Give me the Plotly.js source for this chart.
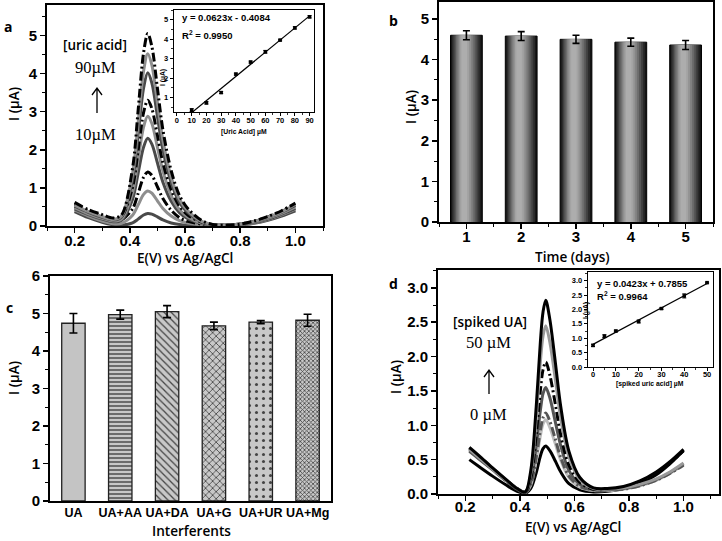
<!DOCTYPE html>
<html><head><meta charset="utf-8">
<script src="https://cdn.plot.ly/plotly-3.0.1.min.js"></script>
<style>html,body{margin:0;padding:0;background:#fff}#chart{width:722px;height:541px}</style>
</head><body><div id="chart"></div>
<script>
// ---------- Panel a : DPV at increasing uric acid ----------
const aPotential = [0.20,0.25,0.30,0.34,0.37,0.41,0.43,0.45,0.465,0.48,0.50,0.52,0.55,0.58,0.61,0.66,0.70,0.75,0.80,0.85,0.90,0.95,1.00];
const aUA10 = [0.38,0.22,0.10,0.03,0.02,0.08,0.18,0.29,0.33,0.31,0.24,0.16,0.08,0.04,0.02,0.01,0.00,0.00,0.02,0.07,0.15,0.26,0.40];
const aUA20 = [0.42,0.26,0.13,0.06,0.07,0.28,0.55,0.83,0.92,0.86,0.66,0.46,0.26,0.14,0.08,0.03,0.01,0.01,0.03,0.08,0.17,0.29,0.44];
const aUA30 = [0.50,0.34,0.21,0.14,0.16,0.45,0.85,1.28,1.42,1.33,1.03,0.72,0.41,0.22,0.12,0.05,0.02,0.02,0.04,0.10,0.19,0.32,0.48];
const aUA40 = [0.45,0.30,0.18,0.11,0.15,0.70,1.38,2.07,2.30,2.15,1.66,1.15,0.65,0.35,0.19,0.07,0.02,0.02,0.04,0.09,0.18,0.31,0.46];
const aUA50 = [0.48,0.32,0.20,0.13,0.19,0.88,1.73,2.60,2.88,2.69,2.07,1.44,0.80,0.43,0.24,0.08,0.03,0.02,0.04,0.10,0.20,0.33,0.50];
const aUA60 = [0.58,0.40,0.27,0.19,0.25,1.02,1.98,2.98,3.30,3.08,2.38,1.66,0.95,0.52,0.29,0.10,0.03,0.02,0.05,0.12,0.24,0.38,0.56];
const aUA70 = [0.52,0.36,0.23,0.16,0.24,1.22,2.40,3.62,4.02,3.75,2.88,2.00,1.14,0.62,0.35,0.11,0.03,0.02,0.05,0.11,0.22,0.36,0.54];
const aUA80 = [0.55,0.38,0.25,0.17,0.26,1.37,2.70,4.07,4.52,4.22,3.24,2.25,1.28,0.70,0.40,0.12,0.04,0.02,0.05,0.12,0.23,0.37,0.57];
const aUA90 = [0.62,0.43,0.30,0.21,0.29,1.52,3.02,4.55,5.05,4.71,3.62,2.52,1.45,0.80,0.46,0.15,0.04,0.02,0.05,0.13,0.25,0.40,0.60];
// inset a : calibration
const aConc = [10,20,30,40,50,60,70,80,90];
const aPeak = [0.35,0.72,1.25,2.20,2.82,3.35,3.95,4.58,5.15];
const aPeakErr = [0.07,0.06,0.05,0.05,0.05,0.07,0.04,0.06,0.06];
const aFitSlope = 0.0623, aFitIntercept = -0.4084;

// ---------- Panel b : stability ----------
const bDays = [1,2,3,4,5];
const bCurrent = [4.60,4.58,4.50,4.43,4.36];
const bErr = [0.11,0.11,0.10,0.10,0.11];

// ---------- Panel c : interferents ----------
const cLabels = ['UA','UA+AA','UA+DA','UA+G','UA+UR','UA+Mg'];
const cCurrent = [4.74,4.97,5.05,4.67,4.77,4.82];
const cErr = [0.26,0.12,0.16,0.10,0.04,0.16];

// ---------- Panel d : spiked real sample ----------
const dPotential = [0.215,0.25,0.30,0.35,0.39,0.42,0.44,0.46,0.475,0.485,0.495,0.51,0.53,0.55,0.58,0.62,0.67,0.72,0.78,0.84,0.90,0.95,1.00];
const dUA0  = [0.50,0.40,0.26,0.13,0.04,0.01,0.08,0.31,0.55,0.66,0.70,0.63,0.48,0.32,0.15,0.06,0.03,0.04,0.08,0.15,0.28,0.44,0.63];
const dUA5  = [0.68,0.56,0.38,0.21,0.08,0.02,0.13,0.49,0.84,1.02,1.08,0.97,0.73,0.49,0.24,0.10,0.05,0.05,0.07,0.12,0.20,0.30,0.43];
const dUA10 = [0.64,0.53,0.36,0.20,0.07,0.02,0.14,0.53,0.92,1.11,1.18,1.06,0.80,0.53,0.26,0.11,0.06,0.06,0.07,0.12,0.20,0.30,0.42];
const dUA20 = [0.62,0.51,0.35,0.19,0.07,0.02,0.18,0.70,1.21,1.46,1.55,1.40,1.05,0.70,0.34,0.14,0.06,0.06,0.08,0.13,0.21,0.31,0.44];
const dUA30 = [0.66,0.54,0.37,0.20,0.08,0.03,0.23,0.86,1.50,1.81,1.92,1.73,1.31,0.86,0.42,0.17,0.07,0.07,0.10,0.18,0.31,0.45,0.63];
const dUA40 = [0.65,0.53,0.36,0.20,0.08,0.03,0.29,1.10,1.91,2.30,2.45,2.21,1.67,1.10,0.54,0.21,0.08,0.07,0.09,0.14,0.22,0.32,0.45];
const dUA50 = [0.68,0.56,0.38,0.21,0.08,0.03,0.34,1.27,2.20,2.65,2.82,2.54,1.92,1.27,0.62,0.24,0.09,0.08,0.11,0.19,0.32,0.47,0.65];
// inset d : calibration
const dConc = [0,5,10,20,30,40,50];
const dPeak = [0.75,1.07,1.25,1.58,2.03,2.47,2.93];
const dPeakErr = [0.04,0.05,0.03,0.05,0.03,0.07,0.02];
const dFitSlope = 0.0423, dFitIntercept = 0.7855;

// ---------- styles ----------
const W = 722, H = 541;
const dx = (l, r) => [l / W, r / W];
const dy = (t, b) => [1 - b / H, 1 - t / H];
const px = v => v / W, py = v => 1 - v / H;

const tickFont = {family: 'Liberation Sans, Arial, sans-serif', size: 15, color: '#000', weight: 'bold'};
const titleFont = {family: 'Open Sans, sans-serif', size: 13.6, color: '#000', weight: 600};
const insetTick = {family: 'Liberation Sans, Arial, sans-serif', size: 7.5, color: '#000', weight: 'bold'};
const insetTitle = {family: 'Liberation Sans, Arial, sans-serif', size: 6.8, color: '#000', weight: 'bold'};
const minorMain = (d) => ({dtick: d, ticks: 'outside', ticklen: 3, tickwidth: 1, tickcolor: '#000'});
const minorInset = (d) => ({dtick: d, ticks: 'outside', ticklen: 2, tickwidth: 0.8, tickcolor: '#000'});

function axis(extra) {
  return Object.assign({
    showline: true, linecolor: '#000', linewidth: 2, mirror: true,
    ticks: 'outside', ticklen: 5, tickwidth: 1.5, tickcolor: '#000',
    showgrid: false, zeroline: false, tickfont: tickFont, fixedrange: true
  }, extra);
}
function insetAxis(extra) {
  return axis(Object.assign({linewidth: 1.3, ticklen: 3, tickwidth: 1, tickfont: insetTick}, extra));
}

const aSeries = [aUA10, aUA20, aUA30, aUA40, aUA50, aUA60, aUA70, aUA80, aUA90];
const aColors = ['#4a4a4a', '#8e8e8e', '#000000'];
const aDash = ['solid', 'solid', '9px,3px,2px,3px'];
const traces = [];
aSeries.forEach((ys, i) => {
  traces.push({type: 'scatter', mode: 'lines', x: aPotential, y: ys, xaxis: 'x', yaxis: 'y',
    line: {color: aColors[i % 3], width: 3, dash: aDash[i % 3], shape: 'spline', smoothing: 0.9},
    showlegend: false, hoverinfo: 'skip'});
});

// panel b: layered bars imitate the cylindrical shading
const bWidths = [0.58, 0.52, 0.46, 0.40, 0.34, 0.28, 0.22, 0.16, 0.10];
const bShades = ['#141414', '#2a2a2a', '#404040', '#575757', '#6d6d6d', '#818181', '#939393', '#a3a3a3', '#adadad'];
bWidths.forEach((w, i) => {
  const left = -0.29 + (0.58 - w) * 0.42;
  traces.push({type: 'bar', x: bDays, y: bCurrent, xaxis: 'x2', yaxis: 'y2',
    width: w, offset: left,
    marker: {color: bShades[i], line: {color: '#000', width: i === 0 ? 1 : 0}},
    showlegend: false, hoverinfo: 'skip'});
});
traces.push({type: 'scatter', mode: 'markers', x: bDays, y: bCurrent, xaxis: 'x2', yaxis: 'y2',
  marker: {size: 1, opacity: 0},
  error_y: {type: 'data', array: bErr, visible: true, color: '#000', thickness: 1.6, width: 3.5},
  showlegend: false, hoverinfo: 'skip'});

// panel c
traces.push({type: 'bar', x: cLabels, y: cCurrent, xaxis: 'x3', yaxis: 'y3', width: 0.5,
  marker: {color: '#c4c4c4', line: {color: '#222', width: 1.3},
    pattern: {shape: ['', '-', '\\', 'x', '.', 'x'], fgcolor: '#444', bgcolor: '#c8c8c8',
      size: [6, 4, 5, 5, 7, 3], solidity: [0.2, 0.35, 0.25, 0.3, 0.15, 0.45]}},
  error_y: {type: 'data', array: cErr, visible: true, color: '#000', thickness: 1.6, width: 4},
  showlegend: false, hoverinfo: 'skip'});

// panel d
const dSeries = [dUA0, dUA5, dUA10, dUA20, dUA30, dUA40, dUA50];
const dColors = ['#000000', '#bdbdbd', '#555555', '#555555', '#000000', '#999999', '#000000'];
const dDash = ['solid', 'solid', '9px,3px,2px,3px', 'solid', '9px,3px,2px,3px', 'solid', 'solid'];
dSeries.forEach((ys, i) => {
  traces.push({type: 'scatter', mode: 'lines', x: dPotential, y: ys, xaxis: 'x4', yaxis: 'y4',
    line: {color: dColors[i], width: 3, dash: dDash[i], shape: 'spline', smoothing: 0.9},
    showlegend: false, hoverinfo: 'skip'});
});

// insets
function fitLine(xs, m, b) { const x0 = xs[0], x1 = xs[xs.length - 1]; return {x: [x0, x1], y: [m * x0 + b, m * x1 + b]}; }
const aLine = fitLine(aConc, aFitSlope, aFitIntercept);
traces.push({type: 'scatter', mode: 'lines', x: aLine.x, y: aLine.y, xaxis: 'x5', yaxis: 'y5',
  line: {color: '#000', width: 1.2}, showlegend: false, hoverinfo: 'skip'});
traces.push({type: 'scatter', mode: 'markers', x: aConc, y: aPeak, xaxis: 'x5', yaxis: 'y5',
  marker: {symbol: 'square', size: 3.5, color: '#000'},
  error_y: {type: 'data', array: aPeakErr, visible: true, color: '#000', thickness: 1, width: 2},
  showlegend: false, hoverinfo: 'skip'});
const dLine = fitLine(dConc, dFitSlope, dFitIntercept);
traces.push({type: 'scatter', mode: 'lines', x: dLine.x, y: dLine.y, xaxis: 'x6', yaxis: 'y6',
  line: {color: '#000', width: 1.2}, showlegend: false, hoverinfo: 'skip'});
traces.push({type: 'scatter', mode: 'markers', x: dConc, y: dPeak, xaxis: 'x6', yaxis: 'y6',
  marker: {symbol: 'square', size: 3.5, color: '#000'},
  error_y: {type: 'data', array: dPeakErr, visible: true, color: '#000', thickness: 1, width: 2},
  showlegend: false, hoverinfo: 'skip'});

const txt = (x, y, text, font, extra) => Object.assign({xref: 'paper', yref: 'paper', x: px(x), y: py(y),
  text: text, showarrow: false, xanchor: 'center', yanchor: 'middle', font: font}, extra || {});
const vtxt = (x, y, text, font) => txt(x, y, text, font, {textangle: -90});
const labelFont = {family: 'Open Sans, sans-serif', size: 13.5, color: '#000', weight: 600};
const serifFont = {family: 'Liberation Serif, Times New Roman, serif', size: 16.5, color: '#000'};
const letterFont = {family: 'Open Sans, sans-serif', size: 14, color: '#000', weight: 700};
const eqFont = {family: 'Liberation Sans, Arial, sans-serif', size: 9.5, color: '#000', weight: 'bold'};

// upward arrow drawn as a paper-space path (tail at bottom, open chevron head)
function upArrow(x, yTop, yBottom) {
  const X = px(x), T = py(yTop), B = py(yBottom), hx = 5 / W, hy = 7 / H;
  return {type: 'path', xref: 'paper', yref: 'paper', line: {color: '#000', width: 1.3},
    path: `M${X},${B} L${X},${T} M${X - hx},${T - hy} L${X},${T} L${X + hx},${T - hy}`};
}

const xStand = -5;
const layout = {
  width: W, height: H, margin: {l: 0, r: 0, t: 0, b: 0},
  paper_bgcolor: '#fff', plot_bgcolor: 'rgba(0,0,0,0)', barmode: 'overlay', showlegend: false,
  xaxis: axis({domain: dx(47, 323), anchor: 'y', range: [0.1, 1.1], tick0: 0.2, dtick: 0.2, tickformat: '.1f', minor: minorMain(0.1), ticklabelstandoff: xStand}),
  yaxis: axis({domain: dy(5, 226), anchor: 'x', range: [0, 5.8], dtick: 1, minor: minorMain(0.5)}),
  xaxis2: axis({domain: dx(439, 713), anchor: 'y2', range: [0.5, 5.5], dtick: 1, minor: minorMain(0.5), ticklabelstandoff: xStand}),
  yaxis2: axis({domain: dy(2, 222), anchor: 'x2', range: [0, 5.42], dtick: 1, minor: minorMain(0.5)}),
  xaxis3: axis({domain: dx(50, 331), anchor: 'y3', type: 'category', range: [-0.5, 5.5], ticks: '',
    tickfont: Object.assign({}, tickFont, {size: 12.5}), ticklabelstandoff: -1}),
  yaxis3: axis({domain: dy(276, 501), anchor: 'x3', range: [0, 6], dtick: 1, minor: minorMain(0.5)}),
  xaxis4: axis({domain: dx(438, 719), anchor: 'y4', range: [0.1, 1.13], tick0: 0.2, dtick: 0.2, tickformat: '.1f', minor: minorMain(0.1), ticklabelstandoff: -7}),
  yaxis4: axis({domain: dy(270, 494), anchor: 'x4', range: [0, 3.26], dtick: 0.5, tickformat: '.1f', minor: minorMain(0.25)}),
  xaxis5: insetAxis({domain: dx(174, 314), anchor: 'y5', range: [-2, 93], tick0: 0, dtick: 10, minor: minorInset(5), ticklabelstandoff: -2}),
  yaxis5: insetAxis({domain: dy(10, 112), anchor: 'x5', range: [0.25, 5.5], tick0: 0, dtick: 1, minor: minorInset(0.5)}),
  xaxis6: insetAxis({domain: dx(588, 713), anchor: 'y6', range: [-2.2, 52.6], tick0: 0, dtick: 10, minor: minorInset(5), ticklabelstandoff: -3}),
  yaxis6: insetAxis({domain: dy(272, 367), anchor: 'x6', range: [0, 3.3], dtick: 0.5, tickformat: '.1f', minor: minorInset(0.25)}),
  shapes: [upArrow(97, 88, 113), upArrow(489, 370, 394)],
  annotations: [
    // axis titles
    txt(185, 257, 'E(V) vs Ag/AgCl', titleFont), vtxt(13, 104, 'I (µA)', titleFont),
    txt(572, 256, 'Time (days)', titleFont), vtxt(410, 107, 'I (µA)', titleFont),
    txt(191, 530, 'Interferents', titleFont), vtxt(13, 378, 'I (µA)', titleFont),
    txt(573, 526, 'E(V) vs Ag/AgCl', titleFont), vtxt(395, 377, 'I (µA)', titleFont),
    txt(244, 132, '[Uric Acid] µM', insetTitle), vtxt(163, 78, 'I (µA)', insetTitle),
    txt(650, 384, '[spiked uric acid] µM', insetTitle), vtxt(586, 311, 'I (µA)', insetTitle),
    // panel letters
    txt(8, 27, 'a', letterFont), txt(393, 20, 'b', letterFont),
    txt(9, 307, 'c', letterFont), txt(393, 283, 'd', letterFont),
    // in-plot labels
    txt(95, 45, '[uric acid]', labelFont), txt(95, 67, '90µM', serifFont),
    txt(95, 134, '10µM', serifFont),
    txt(490, 322, '[spiked UA]', labelFont), txt(488, 342, '50 µM', serifFont),
    txt(488, 414, '0 µM', serifFont),
    // fit equations
    txt(180, 18, 'y = 0.0623x - 0.4084', eqFont, {xanchor: 'left'}),
    txt(180, 35, 'R<sup>2</sup> = 0.9950', eqFont, {xanchor: 'left'}),
    txt(595, 283, 'y = 0.0423x + 0.7855', eqFont, {xanchor: 'left'}),
    txt(595, 296, 'R<sup>2</sup> = 0.9964', eqFont, {xanchor: 'left'})
  ]
};

Plotly.newPlot('chart', traces, layout, {staticPlot: true, displayModeBar: false});
</script>
</body></html>
